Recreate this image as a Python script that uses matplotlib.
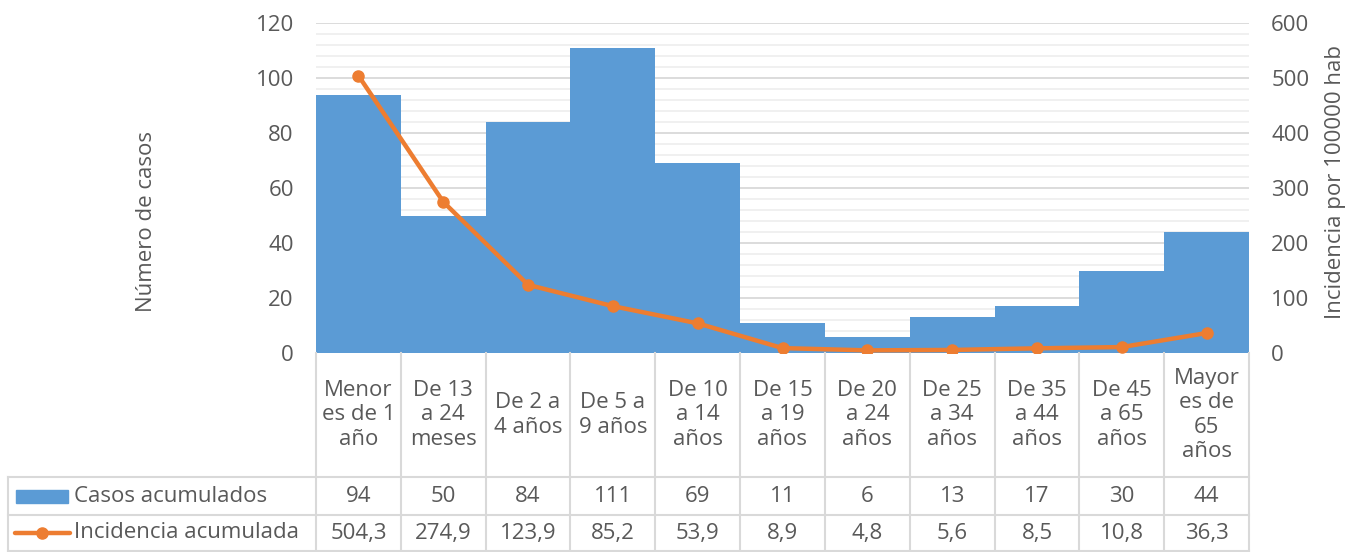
import matplotlib
matplotlib.use("Agg")
import matplotlib.pyplot as plt
from matplotlib.lines import Line2D
from matplotlib.patches import Rectangle
import matplotlib.transforms as mtransforms

categories = ["Menor\nes de 1\naño", "De 13\na 24\nmeses", "De 2 a\n4 años", "De 5 a\n9 años",
              "De 10\na 14\naños", "De 15\na 19\naños", "De 20\na 24\naños", "De 25\na 34\naños",
              "De 35\na 44\naños", "De 45\na 65\naños", "Mayor\nes de\n65\naños"]
casos = [94, 50, 84, 111, 69, 11, 6, 13, 17, 30, 44]
incidencia = [504.3, 274.9, 123.9, 85.2, 53.9, 8.9, 4.8, 5.6, 8.5, 10.8, 36.3]
casos_labels = ["94", "50", "84", "111", "69", "11", "6", "13", "17", "30", "44"]
incid_labels = ["504,3", "274,9", "123,9", "85,2", "53,9", "8,9", "4,8", "5,6", "8,5", "10,8", "36,3"]
series_names = ["Casos acumulados", "Incidencia acumulada"]

plt.rcParams['font.family'] = ['Open Sans', 'DejaVu Sans']
TXT = '#595959'
BLUE = '#5B9BD5'
ORANGE = '#ED7D31'
GRID = '#D9D9D9'
FS = 16

W, H = 1348, 552
fig = plt.figure(figsize=(W/100, H/100), dpi=100)
L, R, T, B = 316, 1249, 23, 353
ax = fig.add_axes([L/W, 1-B/H, (R-L)/W, (B-T)/H])
n = len(categories)
x = list(range(n))
ax.bar(x, casos, width=1.0, color=BLUE, zorder=2)
ax.set_xlim(-0.5, n-0.5)
ax.set_ylim(0, 120)
ax.set_yticks(range(0, 121, 20))
ax.set_yticks(range(0, 121, 4), minor=True)
ax.grid(axis='y', which='major', color=GRID, lw=1.3, zorder=0)
ax.grid(axis='y', which='minor', color='#EDEDED', lw=1.2, zorder=0)
ax.tick_params(axis='y', which='both', length=0, labelsize=FS, labelcolor=TXT, pad=16)
ax.set_xticks([])
for s in ax.spines.values():
    s.set_visible(False)

def ya(py):
    return (B - py) / (B - T)
def xa(px):
    return (px - L) / (R - L)

ax.set_ylabel("Número de casos", fontsize=FS, color=TXT)
ax.yaxis.label.set_va('center')
ax.yaxis.set_label_coords(xa(147), ya(221))

ax2 = ax.twinx()
ax2.plot(x, incidencia, color=ORANGE, lw=3.2, marker='o', markersize=8, zorder=3,
         solid_capstyle='round')
ax2.set_ylim(0, 600)
ax2.set_yticks(range(0, 601, 100))
ax2.tick_params(axis='y', length=0, labelsize=FS, labelcolor=TXT, pad=16)
for s in ax2.spines.values():
    s.set_visible(False)
ax2.set_ylabel("Incidencia por 100000 hab", fontsize=FS, color=TXT)
ax2.yaxis.label.set_va('center')
ax2.yaxis.set_label_coords(xa(1335), ya(182))
ax2.set_xlim(-0.5, n-0.5)

ax.axhline(0, color=GRID, lw=1.5, zorder=1)

# data table
trans = mtransforms.blended_transform_factory(ax.transData, ax.transAxes)
unit = (R - L) / n
def xd(px):
    return -0.5 + (px - L) / unit

y_axis = 0.0
y_r1 = ya(477)
y_r2 = ya(515)
y_r3 = ya(551)
x_left = xd(8)
lk = dict(color=GRID, lw=1.5, transform=trans, clip_on=False)
for i in range(n+1):
    ax.add_line(Line2D([i-0.5, i-0.5], [y_axis, y_r3], **lk))
ax.add_line(Line2D([x_left, x_left], [y_r1, y_r3], **lk))
ax.add_line(Line2D([x_left, n-0.5], [y_r1, y_r1], **lk))
ax.add_line(Line2D([x_left, n-0.5], [y_r2, y_r2], **lk))
ax.add_line(Line2D([x_left, n-0.5], [y_r3, y_r3], **lk))

for i in range(n):
    ax.text(i, (y_axis + y_r1)/2, categories[i], transform=trans, ha='center', va='center',
            fontsize=FS, color=TXT, linespacing=1.2, clip_on=False)
    ax.text(i, (y_r1 + y_r2)/2, casos_labels[i], transform=trans, ha='center', va='center',
            fontsize=FS, color=TXT, clip_on=False)
    ax.text(i, (y_r2 + y_r3)/2, incid_labels[i], transform=trans, ha='center', va='center',
            fontsize=FS, color=TXT, clip_on=False)

ax.add_patch(Rectangle((xd(16), ya(503)), xd(68)-xd(16), ya(490)-ya(503), transform=trans,
                       color=BLUE, clip_on=False))
ax.add_line(Line2D([xd(15), xd(70)], [ya(533)]*2, color=ORANGE, lw=3.2, transform=trans,
                   clip_on=False, solid_capstyle='round'))
ax.add_line(Line2D([xd(42)], [ya(533)], color=ORANGE, marker='o', markersize=8,
                   transform=trans, clip_on=False))
ax.text(xd(74), (y_r1 + y_r2)/2, series_names[0], transform=trans, ha='left', va='center',
        fontsize=FS, color=TXT, clip_on=False)
ax.text(xd(74), (y_r2 + y_r3)/2, series_names[1], transform=trans, ha='left', va='center',
        fontsize=FS, color=TXT, clip_on=False)

fig.savefig("out.png", dpi=100)
